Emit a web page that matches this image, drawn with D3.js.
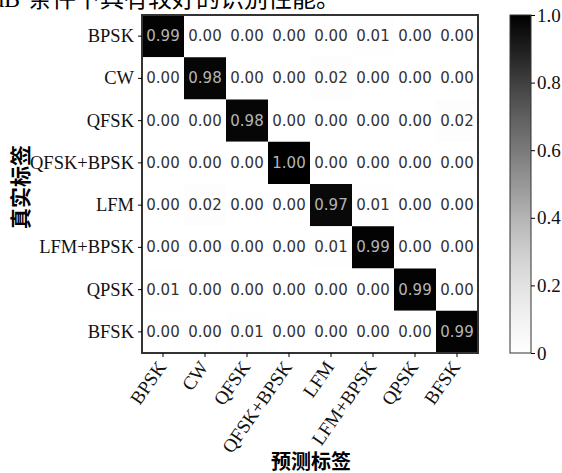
<!DOCTYPE html>
<html>
<head>
<meta charset="utf-8">
<script src="https://cdn.jsdelivr.net/npm/d3@7"></script>
<style>
  html, body { margin: 0; padding: 0; background: #fff; }
  svg { display: block; }
</style>
</head>
<body>
<svg id="chart" width="562" height="473"></svg>
<script>
// Signal classes (true labels on rows, predicted labels on columns)
const classes = ["BPSK", "CW", "QFSK", "QFSK+BPSK", "LFM", "LFM+BPSK", "QPSK", "BFSK"];

// Confusion matrix rows, one per true class
const rowBPSK     = [0.99, 0.00, 0.00, 0.00, 0.00, 0.01, 0.00, 0.00];
const rowCW       = [0.00, 0.98, 0.00, 0.00, 0.02, 0.00, 0.00, 0.00];
const rowQFSK     = [0.00, 0.00, 0.98, 0.00, 0.00, 0.00, 0.00, 0.02];
const rowQFSKBPSK = [0.00, 0.00, 0.00, 1.00, 0.00, 0.00, 0.00, 0.00];
const rowLFM      = [0.00, 0.02, 0.00, 0.00, 0.97, 0.01, 0.00, 0.00];
const rowLFMBPSK  = [0.00, 0.00, 0.00, 0.00, 0.01, 0.99, 0.00, 0.00];
const rowQPSK     = [0.01, 0.00, 0.00, 0.00, 0.00, 0.00, 0.99, 0.00];
const rowBFSK     = [0.00, 0.00, 0.01, 0.00, 0.00, 0.00, 0.00, 0.99];
const matrix = [rowBPSK, rowCW, rowQFSK, rowQFSKBPSK, rowLFM, rowLFMBPSK, rowQPSK, rowBFSK];

// Colorbar ticks
const cbarTicks = [0, 0.2, 0.4, 0.6, 0.8, 1.0];
const cbarTickLabels = ["0", "0.2", "0.4", "0.6", "0.8", "1.0"];

const xTitle = "预测标签";
const yTitle = "真实标签";
const captionTail = "条件下具有较好的识别性能。";

(function draw() {
  const svg = d3.select("#chart");
  const serif = "'Liberation Serif', 'Times New Roman', serif";
  const cjk = "'Noto Sans CJK SC', sans-serif";

  // Partial caption line of the surrounding text, clipped at the page top
  svg.append("text")
    .attr("x", 20).attr("y", 7)
    .attr("text-anchor", "end")
    .attr("font-family", serif).attr("font-size", 24)
    .text("dB");
  svg.append("text")
    .attr("x", 28).attr("y", 7)
    .attr("font-family", cjk).attr("font-size", 24)
    .text(captionTail);

  // Plot area
  const pLeft = 142, pRight = 478, pTop = 15, pBottom = 353;

  const x = d3.scaleBand().domain(classes).range([pLeft, pRight]);
  const y = d3.scaleBand().domain(classes).range([pTop, pBottom]);
  const color = d3.scaleSequential(d3.interpolateGreys).domain([0, 1]);

  const cells = [];
  matrix.forEach((row, i) => row.forEach((v, j) => cells.push({ t: classes[i], p: classes[j], v })));

  const g = svg.append("g");
  g.selectAll("rect.cell")
    .data(cells)
    .join("rect")
    .attr("class", "cell")
    .attr("x", d => x(d.p))
    .attr("y", d => y(d.t))
    .attr("width", x.bandwidth())
    .attr("height", y.bandwidth())
    .attr("fill", d => color(d.v));

  g.selectAll("text.val")
    .data(cells)
    .join("text")
    .attr("class", "val")
    .attr("x", d => x(d.p) + x.bandwidth() / 2)
    .attr("y", d => y(d.t) + y.bandwidth() / 2)
    .attr("text-anchor", "middle")
    .attr("dominant-baseline", "central")
    .attr("font-family", "'DejaVu Sans', sans-serif")
    .attr("font-size", 15)
    .attr("fill", d => d.v > 0.5 ? "#b5b5b5" : "#333")
    .text(d => d.v.toFixed(2));

  // Frame
  svg.append("rect")
    .attr("x", pLeft).attr("y", pTop)
    .attr("width", pRight - pLeft).attr("height", pBottom - pTop)
    .attr("fill", "none").attr("stroke", "#333").attr("stroke-width", 2);

  // Axes
  const yAxis = svg.append("g")
    .attr("transform", `translate(${pLeft},0)`)
    .call(d3.axisLeft(y).tickSize(4).tickPadding(4));
  yAxis.select(".domain").remove();
  yAxis.selectAll("text")
    .attr("font-family", serif).attr("font-size", 18.5).attr("fill", "#111");

  const xAxis = svg.append("g")
    .attr("transform", `translate(0,${pBottom})`)
    .call(d3.axisBottom(x).tickSize(4).tickPadding(4));
  xAxis.select(".domain").remove();
  xAxis.selectAll("text")
    .attr("font-family", serif).attr("font-size", 19).attr("fill", "#111")
    .attr("text-anchor", "end")
    .attr("dy", null).attr("y", null)
    .attr("transform", "translate(4,14) rotate(-55)");

  // Axis titles
  svg.append("text")
    .attr("x", 311).attr("y", 460)
    .attr("text-anchor", "middle").attr("dominant-baseline", "central")
    .attr("font-family", cjk).attr("font-weight", 700).attr("font-size", 20)
    .text(xTitle);
  svg.append("text")
    .attr("transform", `translate(19,187) rotate(-90)`)
    .attr("text-anchor", "middle").attr("dominant-baseline", "central")
    .attr("font-family", cjk).attr("font-weight", 700).attr("font-size", 21)
    .text(yTitle);

  // Colorbar
  const cbLeft = 510, cbWidth = 21;
  const cy = d3.scaleLinear().domain([0, 1]).range([pBottom, pTop]);
  const grad = svg.append("defs").append("linearGradient")
    .attr("id", "cbar").attr("x1", 0).attr("y1", 1).attr("x2", 0).attr("y2", 0);
  d3.range(0, 1.0001, 0.1).forEach(t => {
    grad.append("stop").attr("offset", t).attr("stop-color", color(t));
  });
  svg.append("rect")
    .attr("x", cbLeft).attr("y", pTop)
    .attr("width", cbWidth).attr("height", pBottom - pTop)
    .attr("fill", "url(#cbar)").attr("stroke", "#333").attr("stroke-width", 1);

  const cAxis = svg.append("g")
    .attr("transform", `translate(${cbLeft + cbWidth},0)`)
    .call(d3.axisRight(cy).tickValues(cbarTicks).tickSize(4).tickPadding(2)
      .tickFormat((d, i) => cbarTickLabels[i]));
  cAxis.select(".domain").remove();
  cAxis.selectAll("text")
    .attr("font-family", serif).attr("font-size", 19).attr("fill", "#111");
})();
</script>
</body>
</html>
